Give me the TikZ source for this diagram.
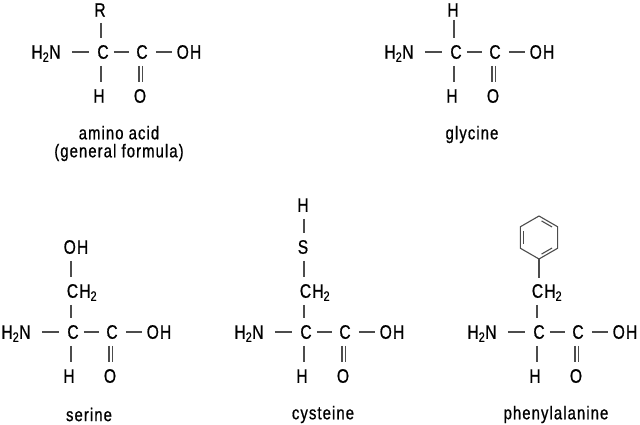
\documentclass[tikz,border=0pt]{standalone}
\usepackage{fontspec}
\setmainfont[FakeStretch=0.8, FakeBold=0.8, LetterSpace=6]{Liberation Sans}
\usetikzlibrary{calc}
\tikzset{
	atom/.style = {font=\fontsize{19.5}{18}\selectfont, inner sep=0pt, text height=13.5pt, text depth=0pt},
	caption/.style = {font=\fontsize{18.5}{18}\selectfont, inner sep=0pt, align=center},
	bond/.style = {-, line width=1.1pt, black!70, shorten <=7pt, shorten >=7pt},
	ringline/.style = {-, line width=1.1pt, black!70}
}

\begin{document}
\begin{tikzpicture}[x=1pt, y=-1pt]
		\useasboundingbox (0,0) rectangle (640,425);
		% backbones
		\foreach \m/\x/\y in {gen/0/0, gly/353/0, ser/-30/280, cys/203/280, phe/436/280} {
			\coordinate (ax\m) at (\x+101,\y);
			\node[atom] (N\m) at (\x+46,\y+52) {H\textsubscript{2}N};
			\node[atom] (Ca\m) at (\x+103,\y+52) {C};
			\node[atom] (Cb\m) at (\x+142,\y+52) {C};
			\node[atom] (OH\m) at (\x+189,\y+52) {OH};
			\node[atom] (H\m) at (\x+99,\y+96) {H};
			\node[atom] (O\m) at (\x+140,\y+96) {O};
			\draw[bond, shorten <=11pt, shorten >=8pt] (N\m) -- (Ca\m);
			\draw[bond, shorten <=5pt] (Ca\m) -- (Cb\m);
			\draw[bond, shorten <=8pt, shorten >=5pt] (Cb\m) -- (OH\m);
			\draw[bond] (Ca\m.south -| ax\m) -- (H\m.north -| ax\m);
			\draw[bond] ([xshift=-3pt]Cb\m.south) -- ([xshift=-3pt]Cb\m.south |- O\m.north);
			\draw[bond] ([xshift=0.5pt]Cb\m.south) -- ([xshift=0.5pt]Cb\m.south |- O\m.north);
		}
		% side chains
		\node[atom] (Rgen) at (100,10) {R};
		\draw[bond, shorten <=6pt] (Rgen.south -| axgen) -- (Cagen.north -| axgen);
		\node[atom] (Hgly) at (453,10) {H};
		\draw[bond, shorten <=3pt] (Hgly.south -| axgly) -- (Cagly.north -| axgly);
		% serine
		\node[atom] (OHser) at (76,247) {OH};
		\node[atom] (CHser) at (82,291) {CH\textsubscript{2}};
		\draw[bond] (OHser.south -| axser) -- (CHser.north -| axser);
		\draw[bond] (CHser.south -| axser) -- (Caser.north -| axser);
		% cysteine
		\node[atom] (Hcys) at (303,205) {H};
		\node[atom] (Scys) at (303,247) {S};
		\node[atom] (CHcys) at (315,291) {CH\textsubscript{2}};
		\draw[bond] (Hcys.south -| axcys) -- (Scys.north -| axcys);
		\draw[bond] (Scys.south -| axcys) -- (CHcys.north -| axcys);
		\draw[bond] (CHcys.south -| axcys) -- (Cacys.north -| axcys);
		% phenyl ring
		\coordinate (ringc) at (539,237.5);
		\foreach \i in {0,...,5}
			\coordinate (ring\i) at ($(ringc)+(90+60*\i:21.5)$);
		\draw[ringline] (ring0) -- (ring1) -- (ring2) -- (ring3) -- (ring4) -- (ring5) -- cycle;
		\foreach \a/\b in {3/4, 5/0, 1/2}
			\draw[ringline, shorten <=3pt, shorten >=3pt] ($(ringc)!0.84!(ring\a)$) -- ($(ringc)!0.84!(ring\b)$);
		\node[atom] (CHphe) at (547,291) {CH\textsubscript{2}};
		\draw[bond, shorten <=0pt, shorten >=6pt] (ring0) -- (CHphe.north -| ring0);
		\draw[bond] (CHphe.south -| axphe) -- (Caphe.north -| axphe);
		% names
		\node[caption] (Lgen) at (119,143.5) {amino acid\\(general formula)};
		\node[caption] (Lgly) at (472,134.5) {glycine};
		\node[caption] (Lser) at (89,414.5) {serine};
		\node[caption] (Lcys) at (323,414.5) {cysteine};
		\node[caption] (Lphe) at (556,414.5) {phenylalanine};
	\end{tikzpicture}
\end{document}
